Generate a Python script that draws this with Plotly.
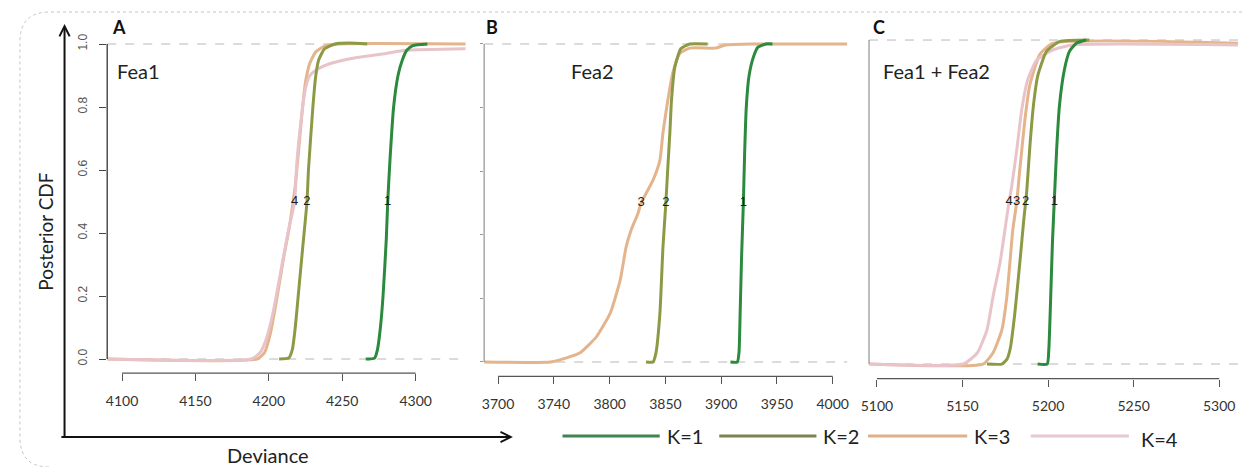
import numpy as np
import plotly.graph_objects as go

W, H = 1244, 467

series_names = ["K=1", "K=2", "K=3", "K=4"]
colors = {"K=1": "#2b8a3e", "K=2": "#8d9a45", "K=3": "#e4b48c", "K=4": "#e8c4ca"}

# ---------------- Panel A : Fea1 ----------------
a_k1_x = [4266, 4272, 4274, 4276, 4277.8, 4280, 4281, 4282.5, 4285, 4288, 4291, 4294, 4298, 4308]
a_k1_y = [0, 0.003, 0.03, 0.1, 0.2, 0.38, 0.5, 0.63, 0.8, 0.9, 0.95, 0.98, 0.995, 1.0]
a_k2_x = [4207, 4213.5, 4216, 4218, 4220, 4223, 4226, 4227, 4230, 4232, 4234, 4238, 4245, 4255, 4267]
a_k2_y = [0, 0.003, 0.03, 0.1, 0.2, 0.35, 0.5, 0.6, 0.8, 0.9, 0.95, 0.985, 1.0, 1.003, 1.0]
a_k3_x = [4090, 4192, 4197, 4201, 4205, 4210, 4214, 4218, 4221, 4223, 4225, 4228, 4232, 4238, 4248, 4334]
a_k3_y = [0, 0, 0.02, 0.08, 0.18, 0.32, 0.42, 0.55, 0.7, 0.8, 0.88, 0.94, 0.975, 0.993, 1.0, 1.0]
a_k4_x = [4090, 4188, 4194, 4198, 4203, 4207, 4213, 4217.6, 4219, 4222, 4225, 4228, 4233, 4240, 4252,
          4265, 4280, 4293, 4334]
a_k4_y = [0, 0, 0.02, 0.06, 0.15, 0.25, 0.4, 0.5, 0.62, 0.76, 0.86, 0.9, 0.92, 0.935, 0.95, 0.96, 0.97,
          0.98, 0.985]

# ---------------- Panel B : Fea2 ----------------
b_k1_x = [3908.3, 3914.5, 3916, 3917, 3918.3, 3919.9, 3921, 3922.5, 3925, 3929, 3933, 3940, 3946]
b_k1_y = [0, 0, 0.03, 0.15, 0.33, 0.5, 0.65, 0.8, 0.9, 0.96, 0.99, 1.0, 1.0]
b_k2_x = [3832.6, 3838.9, 3841.5, 3845.1, 3847.8, 3850.4, 3852.2, 3854, 3855.5, 3858.5, 3863.8, 3871.8, 3887.8]
b_k2_y = [0, 0, 0.028, 0.154, 0.36, 0.5, 0.613, 0.72, 0.824, 0.928, 0.985, 1.0, 1.0]
b_k3_x = [3687.5, 3747, 3761.4, 3773.9, 3788.1, 3800.6, 3809.5, 3814.8, 3819.3, 3825.5, 3828.2, 3838.9,
          3845.1, 3847.8, 3852.2, 3856.7, 3862.9, 3871.8, 3895, 3903.9, 3930.6, 4013]
b_k3_y = [0, 0, 0.013, 0.03, 0.079, 0.154, 0.258, 0.362, 0.415, 0.468, 0.5, 0.572, 0.635, 0.72, 0.824,
          0.91, 0.97, 0.987, 0.987, 0.997, 1.0, 1.0]

# ---------------- Panel C : Fea1 + Fea2 ----------------
c_k1_x = [5193.9, 5199.5, 5200.5, 5201.5, 5202.6, 5203.8, 5205, 5206.7, 5209.6, 5212.5, 5216.5, 5222.3]
c_k1_y = [0, 0, 0.05, 0.2, 0.38, 0.52, 0.66, 0.8, 0.91, 0.965, 0.99, 1.0]
c_k2_x = [5164.3, 5173, 5176, 5178, 5180.6, 5183.5, 5185.8, 5187.5, 5189.5, 5191.5, 5194, 5199.1, 5206.7,
          5224.1]
c_k2_y = [0, 0, 0.015, 0.05, 0.157, 0.312, 0.444, 0.53, 0.68, 0.8, 0.89, 0.965, 0.995, 1.0]
c_k3_x = [5095.4, 5162, 5167.8, 5173, 5175.9, 5177.7, 5179.4, 5181.7, 5183.5, 5186.4, 5189.3, 5195.1,
          5202.6, 5311]
c_k3_y = [0, 0, 0.034, 0.105, 0.207, 0.312, 0.414, 0.5, 0.6, 0.75, 0.86, 0.955, 0.99, 0.99]
c_k4_x = [5095.4, 5150.4, 5158.6, 5164.3, 5167.8, 5171.9, 5174.8, 5177.1, 5178.8, 5181.7, 5184.6, 5188.1,
          5193.3, 5202.6, 5214.2, 5311]
c_k4_y = [0, 0, 0.034, 0.105, 0.207, 0.312, 0.414, 0.497, 0.55, 0.66, 0.784, 0.877, 0.938, 0.969, 0.985,
          0.985]

# tick arrays
a_tickvals = [4100, 4150, 4200, 4250, 4300]
a_ticktext = ["4100", "4150", "4200", "4250", "4300"]
b_tickvals = [3700, 3750, 3800, 3850, 3900, 3950, 4000]
b_ticktext = ["3700", "3740", "3800", "3850", "3900", "3950", "4000"]
c_tickvals = [5100, 5150, 5200, 5250, 5300]
c_ticktext = ["5100", "5150", "5200", "5250", "5300"]
y_tickvals = [0, 0.2, 0.4, 0.6, 0.8, 1.0]

panel_titles = ["Fea1", "Fea2", "Fea1 + Fea2"]
panel_letters = ["A", "B", "C"]

panels = [
    dict(series={"K=3": (a_k3_x, a_k3_y), "K=4": (a_k4_x, a_k4_y), "K=2": (a_k2_x, a_k2_y),
                 "K=1": (a_k1_x, a_k1_y)},
         labels=["K=4", "K=2", "K=1"], tickvals=a_tickvals, ticktext=a_ticktext,
         xrange=[4089.9, 4334.5], xdom_px=(100, 462), ydom_px=(373.2, 25.1), ycol="#333333",
         yticks=True, title_px=(108, 71), letter_px=(112, 27)),
    dict(series={"K=3": (b_k3_x, b_k3_y), "K=2": (b_k2_x, b_k2_y), "K=1": (b_k1_x, b_k1_y)},
         labels=["K=3", "K=2", "K=1"], tickvals=b_tickvals, ticktext=b_ticktext,
         xrange=[3687.5, 4013], xdom_px=(480, 846), ydom_px=(376.3, 24.9), ycol="#9a9a9a",
         yticks="minor", title_px=(566, 71), letter_px=(488, 27)),
    dict(series={"K=3": (c_k3_x, c_k3_y), "K=4": (c_k4_x, c_k4_y), "K=2": (c_k2_x, c_k2_y),
                 "K=1": (c_k1_x, c_k1_y)},
         labels=["K=4", "K=3", "K=2", "K=1"], tickvals=c_tickvals, ticktext=c_ticktext,
         xrange=[5095.4, 5311], xdom_px=(868, 1240), ydom_px=(378.6, 20.6), ycol="#9a9a9a",
         yticks=False, title_px=(880, 71), letter_px=(878, 27)),
]
YR = [-0.045, 1.06]


def px_x(p):
    return p / W


def px_y(p):
    return 1 - p / H


def cross_half(xs, ys):
    for i in range(1, len(xs)):
        if ys[i - 1] < 0.5 <= ys[i]:
            t = (0.5 - ys[i - 1]) / (ys[i] - ys[i - 1])
            return xs[i - 1] + t * (xs[i] - xs[i - 1])
    return xs[-1]


FONT = "Lato, 'Open Sans', sans-serif"
fig = go.Figure()
shapes = []
annotations = []
layout_axes = {}

for i, p in enumerate(panels):
    n = "" if i == 0 else str(i + 1)
    xa, ya = "x" + n, "y" + n
    for name, (xs, ys) in p["series"].items():
        fig.add_trace(go.Scatter(x=xs, y=ys, mode="lines", xaxis=xa, yaxis=ya, name=name,
                                 line=dict(color=colors[name], width=3, shape="spline", smoothing=0.5),
                                 showlegend=False, hoverinfo="skip"))
    # curve labels at the 0.5 crossing
    lx = [cross_half(*p["series"][k]) for k in p["labels"]]
    lt = [k.split("=")[1] for k in p["labels"]]
    fig.add_trace(go.Scatter(x=lx, y=[0.5] * len(lx), mode="text", text=lt, xaxis=xa, yaxis=ya,
                             textfont=dict(family="Arial", size=13, color="#1a1a1a"),
                             showlegend=False, hoverinfo="skip"))

    xkey = "xaxis" + n
    ykey = "yaxis" + n
    layout_axes[xkey] = dict(domain=[px_x(p["xdom_px"][0]), px_x(p["xdom_px"][1])], range=p["xrange"],
                             anchor=ya, showgrid=False, zeroline=False, showline=False,
                             tickmode="array", tickvals=p["tickvals"], ticktext=p["ticktext"],
                             ticks="outside", ticklen=7, tickcolor="#555555", tickwidth=1,
                             ticklabelstandoff=8,
                             tickfont=dict(family=FONT, size=14, color="#333333"))
    ydict = dict(domain=[px_y(p["ydom_px"][0]), px_y(p["ydom_px"][1])], range=YR, anchor=xa,
                 showgrid=False, zeroline=False, showline=False, tickmode="array", tickvals=y_tickvals)
    if p["yticks"] is True:
        ydict.update(ticks="outside", ticklen=7, tickcolor="#444444", tickangle=-90, tickformat=".1f",
                     ticklabelstandoff=7,
                     tickfont=dict(family="Arial", size=12, color="#555555"), showticklabels=True)
    elif p["yticks"] == "minor":
        ydict.update(ticks="outside", ticklen=3, tickcolor="#9a9a9a", showticklabels=False)
    else:
        ydict.update(ticks="", showticklabels=False)
    layout_axes[ykey] = ydict

    # dashed reference lines at 0 and 1
    for yv in (0, 1):
        shapes.append(dict(type="line", xref=xa + " domain", yref=ya, x0=0, x1=1, y0=yv, y1=yv,
                           line=dict(color="#b8b8b8", width=1, dash="dash"), layer="below"))
    # vertical y axis line from 0 to 1
    shapes.append(dict(type="line", xref=xa + " domain", yref=ya, x0=0, x1=0, y0=0, y1=1,
                       line=dict(color=p["ycol"], width=1.3)))
    # x axis bracket between first and last tick
    shapes.append(dict(type="line", xref=xa, yref=ya + " domain", x0=p["tickvals"][0],
                       x1=p["tickvals"][-1], y0=0, y1=0, line=dict(color="#555555", width=1.2)))
    # panel title and letter
    annotations.append(dict(text=panel_titles[i], xref="paper", yref="paper", x=px_x(p["title_px"][0]),
                            y=px_y(p["title_px"][1]), xanchor="left", yanchor="middle", showarrow=False,
                            font=dict(family=FONT, size=20, color="#222222")))
    annotations.append(dict(text="<b>" + panel_letters[i] + "</b>", xref="paper", yref="paper",
                            x=px_x(p["letter_px"][0]), y=px_y(p["letter_px"][1]), xanchor="center",
                            yanchor="middle", showarrow=False,
                            font=dict(family=FONT, size=18, color="#111111")))

# axis titles with arrows
annotations.append(dict(text="Posterior CDF", xref="paper", yref="paper", x=px_x(37), y=px_y(232),
                        textangle=-90, showarrow=False, xanchor="center", yanchor="middle",
                        font=dict(family=FONT, size=19, color="#222222")))
annotations.append(dict(text="Deviance", xref="paper", yref="paper", x=px_x(262), y=px_y(455),
                        showarrow=False, xanchor="center", yanchor="middle",
                        font=dict(family=FONT, size=20, color="#222222")))
annotations.append(dict(text="", xref="paper", yref="paper", x=px_x(57), y=px_y(24),
                        axref="pixel", ayref="pixel", ax=0, ay=414, showarrow=True,
                        arrowhead=5, arrowwidth=2, arrowsize=1, arrowcolor="#111111"))
annotations.append(dict(text="", xref="paper", yref="paper", x=px_x(509), y=px_y(437),
                        axref="pixel", ayref="pixel", ax=-453, ay=0, showarrow=True,
                        arrowhead=5, arrowwidth=2, arrowsize=1, arrowcolor="#111111"))

# manual legend
legend_px = {"K=1": (559, 657, 662, 436), "K=2": (717, 815, 820, 436),
             "K=3": (867, 967, 972, 436), "K=4": (1031, 1130, 1140, 439)}
legend_line_colors = {"K=1": "#3f8550", "K=2": "#7a8450", "K=3": "#e0b08a", "K=4": "#e8c8d0"}
for name in series_names:
    x0, x1, tx, yy = legend_px[name]
    shapes.append(dict(type="line", xref="paper", yref="paper", x0=px_x(x0), x1=px_x(x1),
                       y0=px_y(436), y1=px_y(436), line=dict(color=legend_line_colors[name], width=3)))
    annotations.append(dict(text=name, xref="paper", yref="paper", x=px_x(tx), y=px_y(yy),
                            xanchor="left", yanchor="middle", showarrow=False,
                            font=dict(family=FONT, size=20, color="#222222")))

# dotted rounded outer frame
fx = lambda p: f"{px_x(p):.5f}"
fy = lambda p: f"{px_y(p):.5f}"
frame_path = (f"M {fx(1244)},{fy(12)} L {fx(42)},{fy(12)} Q {fx(12)},{fy(12)} {fx(12)},{fy(42)} "
              f"L {fx(12)},{fy(437)} Q {fx(12)},{fy(467)} {fx(42)},{fy(467)}")
shapes.append(dict(type="path", xref="paper", yref="paper", path=frame_path,
                   line=dict(color="#c4c4c4", width=1, dash="dot")))

fig.update_layout(width=W, height=H, margin=dict(l=0, r=0, t=0, b=0), paper_bgcolor="white",
                  plot_bgcolor="rgba(0,0,0,0)", showlegend=False, shapes=shapes,
                  annotations=annotations, **layout_axes)

fig.write_html("out.html", config={"displayModeBar": False},
               post_script="document.body.style.margin='0px';document.body.style.padding='0px';"
                           "document.body.style.overflow='hidden';")
